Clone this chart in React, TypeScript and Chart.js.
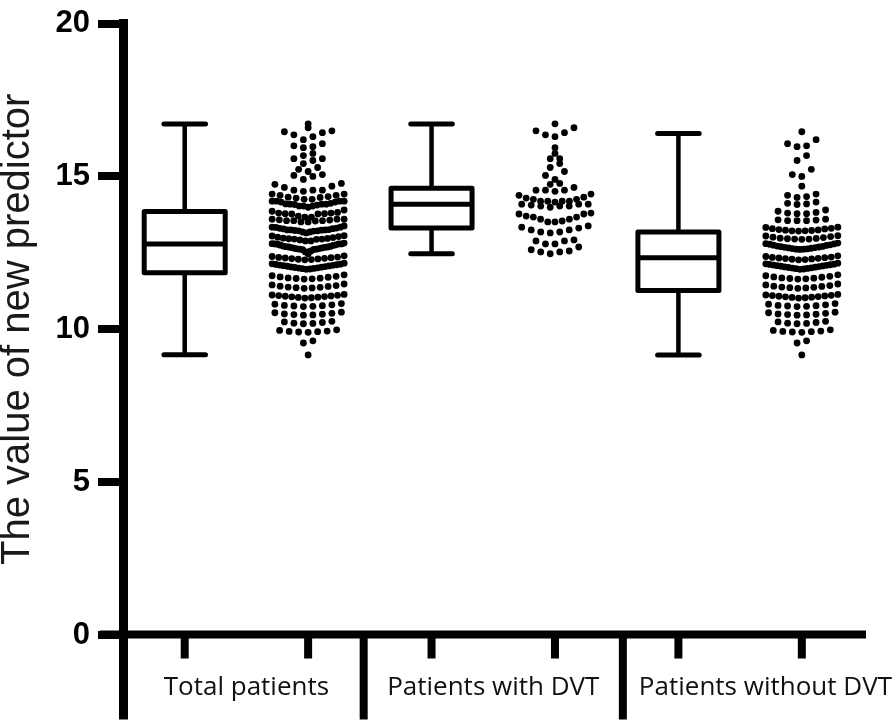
import React, { useEffect, useRef } from "react";
import { Chart, registerables } from "chart.js";

Chart.register(...registerables);

// ---------------- data ----------------
const categories = ["Total patients", "Patients with DVT", "Patients without DVT"];
const yTicks = [0, 5, 10, 15, 20];

// box statistics per group
const boxMin = [9.17, 12.47, 9.16];
const boxQ1 = [11.85, 13.31, 11.27];
const boxMedian = [12.79, 14.09, 12.34];
const boxQ3 = [13.85, 14.61, 13.18];
const boxMax = [16.71, 16.71, 16.4];

// individual values, patients with DVT
const dvtValues = [
  16.72, 16.59, 16.49, 16.43, 16.36, 16.3,
  15.94, 15.75, 15.58, 15.58, 15.42, 15.29, 15.16, 15.03, 14.9,
  14.77, 14.74, 14.64, 14.55, 14.55, 14.55, 14.51,
  14.42, 14.38, 14.32, 14.29, 14.25, 14.25, 14.19, 14.19, 14.19, 14.19, 14.16,
  14.09, 14.09, 14.09, 14.06, 14.03, 14.03, 14.03, 13.99,
  13.8, 13.77, 13.77, 13.7, 13.67, 13.67, 13.6, 13.6, 13.54, 13.51, 13.51,
  13.38, 13.34, 13.31, 13.25, 13.25, 13.18, 13.18, 13.15,
  12.92, 12.89, 12.89, 12.79, 12.79, 12.69,
  12.6, 12.56, 12.53, 12.53, 12.47,
];

// individual values, patients without DVT
const nonDvtValues = [
  16.46, 16.2, 16.07, 16.0, 15.97, 15.68, 15.52, 15.23, 15.06, 15.0, 14.68,
  14.42, 14.38, 14.34, 14.31,
  14.16, 14.12, 14.1, 14.08,
  13.9, 13.86, 13.82, 13.8, 13.78, 13.78,
  13.6, 13.58, 13.57, 13.55, 13.55, 13.55,
  13.34, 13.33, 13.3, 13.29, 13.28, 13.26, 13.25, 13.24, 13.23, 13.22, 13.22, 13.21,
  13.06, 13.05, 13.03, 13.01, 13.0, 12.98, 12.97, 12.96, 12.95, 12.95, 12.94,
  12.82, 12.8, 12.79, 12.78, 12.76, 12.75, 12.74, 12.72, 12.71, 12.7,
  12.69, 12.68, 12.67, 12.66, 12.65, 12.64, 12.63, 12.62, 12.62, 12.61,
  12.4, 12.38, 12.36, 12.35, 12.34, 12.33, 12.32, 12.31, 12.3, 12.29, 12.28, 12.27,
  12.16, 12.14, 12.13, 12.12, 12.11, 12.1, 12.09, 12.08, 12.07, 12.06,
  12.05, 12.04, 12.03, 12.02, 12.01, 12.0, 11.99, 11.98, 11.97, 11.96,
  11.78, 11.75, 11.73, 11.71, 11.7, 11.68, 11.67, 11.66, 11.65, 11.64,
  11.48, 11.45, 11.43, 11.41, 11.4, 11.38, 11.37, 11.36, 11.35, 11.34,
  11.14, 11.12, 11.11, 11.1, 11.09, 11.08, 11.07, 11.06, 11.05, 11.04, 11.03, 11.02,
  10.84, 10.82, 10.8, 10.78, 10.77, 10.76, 10.75, 10.74,
  10.56, 10.54, 10.52, 10.5, 10.49, 10.48, 10.47, 10.46,
  10.26, 10.24, 10.22, 10.2, 10.19, 10.18,
  9.98, 9.96, 9.94, 9.93, 9.92, 9.91, 9.9,
  9.62, 9.55,
  9.16,
];

const totalValues = [...dvtValues, ...nonDvtValues];
const groupValues = [totalValues, dvtValues, nonDvtValues];

// ---------------- layout ----------------
const W = 896;
const H = 725;
const X_MIN = 0.5;
const X_MAX = 6.52;
const AREA_LEFT = 123;
const PAD_RIGHT = 30;
const PAD_TOP = 17;
const PAD_BOTTOM = 90;
const PX_PER_UNIT = (W - PAD_RIGHT - AREA_LEFT) / (X_MAX - X_MIN);
const BOX_X = [1, 3, 5];
const DOT_X = [2, 4, 6];
const SEPARATOR_X = [2.45, 4.55];
const BOX_HALF = 40.5 / PX_PER_UNIT;
const CAP_HALF = 20.8 / PX_PER_UNIT;
const DOT_STEP = 9.5 / PX_PER_UNIT;
const MAX_SPAN = 72 / PX_PER_UNIT;
const ROW_H = 0.3;
const INK = "#000";

// split a sorted run into rows at the widest gaps until each row is short
function splitRows(s: number[], lo: number, hi: number, out: number[][]) {
  if (s[hi] - s[lo] <= ROW_H || lo === hi) {
    out.push(s.slice(lo, hi + 1));
    return;
  }
  const mid = (lo + hi) / 2;
  let best = lo;
  let bestGap = -1;
  for (let k = lo; k < hi; k++) {
    const g = s[k + 1] - s[k];
    if (g > bestGap + 1e-9 || (Math.abs(g - bestGap) <= 1e-9 && Math.abs(k - mid) < Math.abs(best - mid))) {
      bestGap = g;
      best = k;
    }
  }
  splitRows(s, lo, best, out);
  splitRows(s, best + 1, hi, out);
}

function swarm(values: number[], center: number) {
  const sorted = [...values].sort((a, b) => a - b);
  const rows: number[][] = [];
  splitRows(sorted, 0, sorted.length - 1, rows);
  const pts: { x: number; y: number }[] = [];
  for (const row of rows) {
    const n = row.length;
    const step = n > 1 ? Math.min(DOT_STEP, MAX_SPAN / (n - 1)) : 0;
    const slots = Array.from({ length: n }, (_, i) => (i - (n - 1) / 2) * step);
    slots.sort((a, b) => Math.abs(a) - Math.abs(b) || a - b);
    row.forEach((v, i) => pts.push({ x: center + slots[i], y: v }));
  }
  return pts;
}

const boxPlugin = {
  id: "boxAndAxes",
  afterDatasetsDraw(chart: any) {
    const { ctx, chartArea } = chart;
    const xs = chart.scales.x;
    const ys = chart.scales.y;
    ctx.save();
    ctx.strokeStyle = INK;
    ctx.fillStyle = INK;

    // boxes & whiskers
    for (let g = 0; g < categories.length; g++) {
      const cx = xs.getPixelForValue(BOX_X[g]);
      const bl = xs.getPixelForValue(BOX_X[g] - BOX_HALF);
      const br = xs.getPixelForValue(BOX_X[g] + BOX_HALF);
      const cl = xs.getPixelForValue(BOX_X[g] - CAP_HALF);
      const cr = xs.getPixelForValue(BOX_X[g] + CAP_HALF);
      const yMin = ys.getPixelForValue(boxMin[g]);
      const yQ1 = ys.getPixelForValue(boxQ1[g]);
      const yMed = ys.getPixelForValue(boxMedian[g]);
      const yQ3 = ys.getPixelForValue(boxQ3[g]);
      const yMax = ys.getPixelForValue(boxMax[g]);

      ctx.lineCap = "butt";
      ctx.lineWidth = 4.5;
      ctx.beginPath();
      ctx.moveTo(cx, yQ3);
      ctx.lineTo(cx, yMax);
      ctx.moveTo(cx, yQ1);
      ctx.lineTo(cx, yMin);
      ctx.stroke();

      ctx.lineCap = "round";
      ctx.lineWidth = 5;
      ctx.beginPath();
      ctx.moveTo(cl, yMax);
      ctx.lineTo(cr, yMax);
      ctx.moveTo(cl, yMin);
      ctx.lineTo(cr, yMin);
      ctx.stroke();

      ctx.lineJoin = "round";
      ctx.lineWidth = 5;
      ctx.strokeRect(bl, yQ3, br - bl, yQ1 - yQ3);
      ctx.lineCap = "butt";
      ctx.beginPath();
      ctx.moveTo(bl, yMed);
      ctx.lineTo(br, yMed);
      ctx.stroke();
    }

    // axes
    const y0 = ys.getPixelForValue(0) - 0.5;
    const axisX = chartArea.left + 0.5;
    ctx.lineCap = "butt";
    ctx.lineWidth = 9;
    ctx.beginPath();
    ctx.moveTo(axisX, y0);
    ctx.lineTo(axisX, y0 + 85);
    ctx.stroke();

    ctx.lineWidth = 8;
    ctx.beginPath();
    ctx.moveTo(chartArea.left - 23, y0);
    ctx.lineTo(chartArea.right, y0);
    ctx.stroke();

    // x tick marks
    ctx.lineWidth = 8;
    ctx.beginPath();
    [...BOX_X, ...DOT_X].forEach((v) => {
      const px = xs.getPixelForValue(v);
      ctx.moveTo(px, y0);
      ctx.lineTo(px, y0 + 24);
    });
    ctx.stroke();

    // group separators
    ctx.beginPath();
    SEPARATOR_X.forEach((v) => {
      const px = xs.getPixelForValue(v);
      ctx.moveTo(px, y0);
      ctx.lineTo(px, y0 + 85);
    });
    ctx.stroke();

    // category labels
    ctx.font = "26px 'Open Sans', sans-serif";
    ctx.textAlign = "center";
    ctx.textBaseline = "alphabetic";
    ctx.fillStyle = "#111";
    const leftEdges = [chartArea.left, ...SEPARATOR_X.map((v) => xs.getPixelForValue(v))];
    categories.forEach((label, g) => {
      const mid = (xs.getPixelForValue(BOX_X[g]) + xs.getPixelForValue(DOT_X[g])) / 2;
      const w = ctx.measureText(label).width;
      const cx = Math.max(mid, leftEdges[g] + 16 + w / 2);
      ctx.fillText(label, cx, y0 + 60);
    });
    ctx.restore();
  },
};

export default function App() {
  const ref = useRef<HTMLCanvasElement | null>(null);
  useEffect(() => {
    document.body.style.margin = "0";
    const canvas = ref.current;
    if (!canvas) return;
    const datasets = groupValues.map((vals, g) => ({
      label: categories[g],
      data: swarm(vals, DOT_X[g]),
      backgroundColor: INK,
      borderWidth: 0,
      pointRadius: 3.4,
      pointHoverRadius: 3.4,
    }));
    const chart = new Chart(canvas, {
      type: "scatter",
      data: { datasets },
      plugins: [boxPlugin],
      options: {
        animation: false,
        responsive: false,
        devicePixelRatio: 1,
        layout: { padding: { left: 0, right: PAD_RIGHT, top: PAD_TOP, bottom: PAD_BOTTOM } },
        plugins: { legend: { display: false }, tooltip: { enabled: false } },
        scales: {
          x: { type: "linear", min: X_MIN, max: X_MAX, display: false },
          y: {
            type: "linear",
            min: 0,
            max: 20,
            afterFit: (s: any) => {
              s.width = AREA_LEFT;
            },
            afterBuildTicks: (s: any) => {
              s.ticks = yTicks.map((v) => ({ value: v }));
            },
            ticks: {
              color: INK,
              padding: 8,
              font: { family: "'Liberation Sans', Arial, sans-serif", size: 31, weight: "bold", lineHeight: 1 },
            },
            grid: {
              drawOnChartArea: false,
              drawTicks: true,
              tickLength: 25,
              lineWidth: 8,
              color: INK,
            },
            border: { display: true, width: 9, color: INK },
            title: {
              display: true,
              text: "The value of new predictor",
              color: "#1a1a1a",
              padding: 0,
              font: { family: "'Liberation Sans', Arial, sans-serif", size: 40, lineHeight: 0.9 },
            },
          },
        },
      },
    });
    return () => chart.destroy();
  }, []);
  return (
    <div style={{ width: W, height: H }}>
      <canvas ref={ref} width={W} height={H} style={{ display: "block" }} />
    </div>
  );
}
